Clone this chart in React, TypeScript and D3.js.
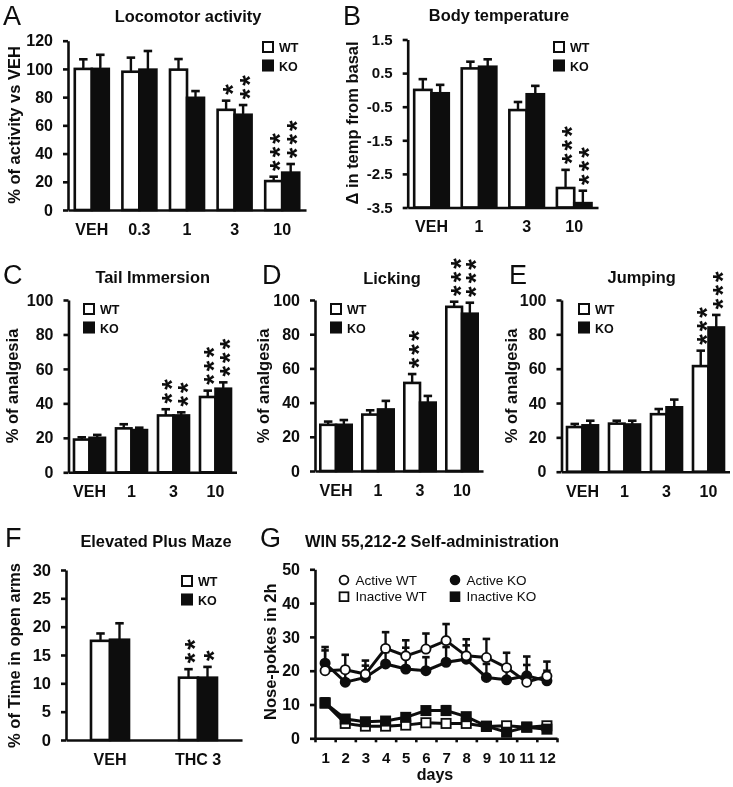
import React, { useEffect, useRef } from "react";
import * as d3 from "d3";

const SANS = "'Liberation Sans', Arial, sans-serif";
const INK = "#0c0c0c";

// A - locomotor activity
const locoDoses = ["VEH", "0.3", "1", "3", "10"];
const locoWT = [100, 98, 99.5, 71, 20.5];
const locoWTErr = [106.8, 108, 107, 77.5, 23.6];
const locoKO = [100, 99.5, 79.5, 67.5, 26.5];
const locoKOErr = [110, 112.7, 84.3, 74.4, 32.6];
const locoWTStars = [0, 0, 0, 1, 3];
const locoKOStars = [0, 0, 0, 2, 3];
const locoTicks = [0, 20, 40, 60, 80, 100, 120];

// B - body temperature
const tempDoses = ["VEH", "1", "3", "10"];
const tempWT = [0.0, 0.64, -0.6, -2.92];
const tempWTErr = [0.32, 0.84, -0.36, -2.38];
const tempKO = [-0.1, 0.69, -0.13, -3.37];
const tempKOErr = [0.15, 0.91, 0.12, -3.0];
const tempWTStars = [0, 0, 0, 3];
const tempKOStars = [0, 0, 0, 3];
const tempTicks = [-3.5, -2.5, -1.5, -0.5, 0.5, 1.5];

// C, D, E - analgesia
const analgesiaDoses = ["VEH", "1", "3", "10"];
const analgesiaTicks = [0, 20, 40, 60, 80, 100];

const tailWT = [19, 25.5, 33, 43.7];
const tailWTErr = [20.3, 27.9, 36.6, 47.4];
const tailKO = [20, 24.5, 33, 48.5];
const tailKOErr = [21.7, 25.9, 34.8, 52.2];
const tailWTStars = [0, 0, 2, 3];
const tailKOStars = [0, 0, 2, 3];

const lickWT = [27, 33, 51.5, 96];
const lickWTErr = [28.9, 35.5, 56.7, 99];
const lickKO = [27, 36, 40, 92];
const lickKOErr = [29.8, 41, 43.9, 98.4];
const lickWTStars = [0, 0, 3, 3];
const lickKOStars = [0, 0, 0, 3];

const jumpWT = [26, 28, 33.5, 61.5];
const jumpWTErr = [27.8, 29.7, 36.5, 70.5];
const jumpKO = [27, 27.5, 37.5, 84];
const jumpKOErr = [29.7, 29.7, 42, 91.3];
const jumpWTStars = [0, 0, 0, 3];
const jumpKOStars = [0, 0, 0, 3];

// F - elevated plus maze
const mazeGroups = ["VEH", "THC 3"];
const mazeWT = [17.5, 11];
const mazeWTErr = [18.8, 12.5];
const mazeKO = [17.7, 11];
const mazeKOErr = [20.6, 12.9];
const mazeWTStars = [0, 2];
const mazeKOStars = [0, 1];
const mazeTicks = [0, 5, 10, 15, 20, 25, 30];

// G - self-administration
const days = [1, 2, 3, 4, 5, 6, 7, 8, 9, 10, 11, 12];
const activeWT = [20, 20.3, 19, 26.6, 24.4, 26.4, 28.9, 24.4, 23.9, 20.9, 16.6, 18.4];
const activeWTErr = [27, 24.7, 23, 31.4, 29, 31, 33.8, 29.3, 29.4, 25.3, 24.2, 22.7];
const activeKO = [22.2, 16.6, 18, 22, 20.5, 20, 22.5, 23.4, 18, 17.3, 18.5, 17];
const activeKOErr = [26, 19.5, 21.5, 25.5, 26.8, 24, 27, 27.5, 22, 20, 21.7, 20];
const inactiveWT = [10.4, 4.4, 3.6, 3.6, 3.9, 4.6, 4.4, 4.4, 3.5, 3.7, 3.3, 3.7];
const inactiveWTErr = [11.2, 5.2, 4.4, 4.4, 4.7, 5.6, 5.6, 5.2, 4.2, 4.6, 4, 4.6];
const inactiveKO = [10.5, 5.7, 4.9, 5.1, 6.2, 8.2, 8.2, 6.4, 3.6, 1.8, 3.3, 2.7];
const inactiveKOErr = [11.8, 6.6, 5.6, 5.9, 7, 9.3, 9.5, 7.2, 4.4, 2.5, 4, 3.4];
const selfTicks = [0, 10, 20, 30, 40, 50];

const barPanels = [
  {
    letter: "A", letterX: 3, letterY: 24.5, title: "Locomotor activity", titleX: 188, titleY: 21.5,
    yLabel: "% of activity vs VEH", yLabelX: 20, yLabelY: 125,
    x0: 68, x1: 306, y0: 210, y1: 40.7, barW: 17,
    domain: [0, 120], ticks: locoTicks, tickText: locoTicks.map(String), tickSize: 16,
    groups: locoDoses, wt: locoWT, wtErr: locoWTErr, ko: locoKO, koErr: locoKOErr,
    wtStars: locoWTStars, koStars: locoKOStars, legendX: 263, legendY: 42,
  },
  {
    letter: "B", letterX: 343, letterY: 24.5, title: "Body temperature", titleX: 499, titleY: 21,
    yLabel: "Δ in temp from basal", yLabelX: 358, yLabelY: 123,
    x0: 407.7, x1: 598, y0: 207.5, y1: 39.5, barW: 17.3,
    domain: [-3.5, 1.5], ticks: tempTicks, tickText: ["-3.5", "-2.5", "-1.5", "-0.5", "0.5", "1.5"], tickSize: 15,
    groups: tempDoses, wt: tempWT, wtErr: tempWTErr, ko: tempKO, koErr: tempKOErr,
    wtStars: tempWTStars, koStars: tempKOStars, legendX: 554, legendY: 42,
  },
  {
    letter: "C", letterX: 3, letterY: 284, title: "Tail Immersion", titleX: 152.7, titleY: 283,
    yLabel: "% of analgesia", yLabelX: 17.5, yLabelY: 386,
    x0: 68.5, x1: 236.5, y0: 472.3, y1: 300, barW: 15.5,
    domain: [0, 100], ticks: analgesiaTicks, tickText: analgesiaTicks.map(String), tickSize: 16,
    groups: analgesiaDoses, wt: tailWT, wtErr: tailWTErr, ko: tailKO, koErr: tailKOErr,
    wtStars: tailWTStars, koStars: tailKOStars, legendX: 84, legendY: 304,
  },
  {
    letter: "D", letterX: 262, letterY: 284, title: "Licking", titleX: 392, titleY: 284,
    yLabel: "% of analgesia", yLabelX: 269, yLabelY: 386,
    x0: 315, x1: 483, y0: 471, y1: 300, barW: 15.7,
    domain: [0, 100], ticks: analgesiaTicks, tickText: analgesiaTicks.map(String), tickSize: 16,
    groups: analgesiaDoses, wt: lickWT, wtErr: lickWTErr, ko: lickKO, koErr: lickKOErr,
    wtStars: lickWTStars, koStars: lickKOStars, legendX: 331, legendY: 304,
  },
  {
    letter: "E", letterX: 509, letterY: 284, title: "Jumping", titleX: 641.7, titleY: 283,
    yLabel: "% of analgesia", yLabelX: 517, yLabelY: 386,
    x0: 561.5, x1: 729.5, y0: 471.7, y1: 300, barW: 15.5,
    domain: [0, 100], ticks: analgesiaTicks, tickText: analgesiaTicks.map(String), tickSize: 16,
    groups: analgesiaDoses, wt: jumpWT, wtErr: jumpWTErr, ko: jumpKO, koErr: jumpKOErr,
    wtStars: jumpWTStars, koStars: jumpKOStars, legendX: 579, legendY: 304,
  },
  {
    letter: "F", letterX: 5, letterY: 547, title: "Elevated Plus Maze", titleX: 156, titleY: 546.7,
    yLabel: "% of Time in open arms", yLabelX: 20, yLabelY: 655.5,
    x0: 66, x1: 242, y0: 740, y1: 570, barW: 19,
    domain: [0, 30], ticks: mazeTicks, tickText: mazeTicks.map(String), tickSize: 16.5,
    groups: mazeGroups, wt: mazeWT, wtErr: mazeWTErr, ko: mazeKO, koErr: mazeKOErr,
    wtStars: mazeWTStars, koStars: mazeKOStars, legendX: 182, legendY: 576,
  },
];

type Sel = d3.Selection<SVGGElement, unknown, null, undefined>;

const label = (g: Sel, s: string, x: number, y: number, size: number, weight = "bold", anchor = "start") =>
  g
    .append("text")
    .attr("x", x)
    .attr("y", y)
    .attr("font-size", size)
    .attr("font-weight", weight)
    .attr("text-anchor", anchor)
    .attr("fill", INK)
    .text(s);

const yTitle = (g: Sel, s: string, x: number, y: number) =>
  label(g, s, 0, 0, 16.5, "bold", "middle").attr("transform", `translate(${x},${y}) rotate(-90)`);

const leftAxis = (g: Sel, y: d3.ScaleLinear<number, number>, x0: number, ticks: number[], text: string[], size: number) => {
  const axis = g
    .append("g")
    .attr("transform", `translate(${x0},0)`)
    .call(
      d3
        .axisLeft(y)
        .tickValues(ticks)
        .tickSize(5)
        .tickSizeOuter(0)
        .tickPadding(10)
        .tickFormat((d) => text[ticks.indexOf(d as number)])
    );
  axis.attr("font-family", SANS).attr("font-size", size).attr("font-weight", "bold");
  axis.selectAll("path, line").attr("stroke", INK).attr("stroke-width", 2.6);
  axis.selectAll("text").attr("fill", INK);
};

const errorBar = (g: Sel, x: number, from: number, to: number, cap = 8.5) => {
  g.append("line").attr("x1", x).attr("x2", x).attr("y1", from).attr("y2", to).attr("stroke", INK).attr("stroke-width", 2.4);
  g.append("line").attr("x1", x - cap / 2).attr("x2", x + cap / 2).attr("y1", to).attr("y2", to).attr("stroke", INK).attr("stroke-width", 2.6);
};

// a stack of asterisks is one string turned on its side, lowest star first
const starStack = (g: Sel, cx: number, centre: number, count: number) => {
  if (!count) return;
  label(g, "*".repeat(count), 0, 0, 27, "bold")
    .attr("letter-spacing", 3.1)
    .attr("transform", `translate(${cx + 15.5},${centre + 5.2}) rotate(-90)`);
};

export default function App() {
  const ref = useRef<SVGSVGElement>(null);

  useEffect(() => {
    const root = d3.select(ref.current as SVGSVGElement);
    root.selectAll("*").remove();
    root
      .append("filter")
      .attr("id", "soft")
      .attr("filterUnits", "userSpaceOnUse")
      .attr("x", 0)
      .attr("y", 0)
      .attr("width", 733)
      .attr("height", 787)
      .append("feGaussianBlur")
      .attr("stdDeviation", 0.45);
    const svg = root.append("g").attr("font-family", SANS).attr("filter", "url(#soft)") as Sel;

    barPanels.forEach((p) => {
      const g = svg.append("g") as Sel;
      const x = d3.scaleBand<string>().domain(p.groups).range([p.x0, p.x1]);
      const y = d3.scaleLinear().domain(p.domain).range([p.y0, p.y1]);

      label(g, p.letter, p.letterX, p.letterY, 27, "normal");
      label(g, p.title, p.titleX, p.titleY, 16.4, "bold", "middle");
      yTitle(g, p.yLabel, p.yLabelX, p.yLabelY);

      const series = [
        { v: p.wt, err: p.wtErr, stars: p.wtStars, fill: "#fff", side: -1 },
        { v: p.ko, err: p.koErr, stars: p.koStars, fill: INK, side: 1 },
      ];
      series.forEach((s) => {
        p.groups.forEach((name, i) => {
          const c = (x(name) as number) + x.bandwidth() / 2;
          const left = s.side < 0 ? c - p.barW : c;
          const cx = left + p.barW / 2;
          errorBar(g, cx, y(s.v[i]), y(s.err[i]));
          g.append("rect")
            .attr("x", left)
            .attr("y", y(s.v[i]))
            .attr("width", p.barW)
            .attr("height", p.y0 - y(s.v[i]))
            .attr("fill", s.fill)
            .attr("stroke", INK)
            .attr("stroke-width", 2.6);
          starStack(g, cx, y(s.err[i]) - 11, s.stars[i]);
        });
      });

      leftAxis(g, y, p.x0, p.ticks, p.tickText, p.tickSize);
      const bottom = g
        .append("g")
        .attr("transform", `translate(0,${p.y0})`)
        .call(d3.axisBottom(x).tickSize(0).tickPadding(13.5));
      bottom.attr("font-family", SANS).attr("font-size", 16).attr("font-weight", "bold");
      bottom.selectAll("path").attr("stroke", INK).attr("stroke-width", 2.6);
      bottom.selectAll("text").attr("fill", INK);

      // legend
      [
        { t: "WT", fill: "#fff", dy: 0 },
        { t: "KO", fill: INK, dy: 18.5 },
      ].forEach((l) => {
        g.append("rect")
          .attr("x", p.legendX)
          .attr("y", p.legendY + l.dy)
          .attr("width", 10)
          .attr("height", 10)
          .attr("fill", l.fill)
          .attr("stroke", INK)
          .attr("stroke-width", 2);
        label(g, l.t, p.legendX + 16, p.legendY + l.dy + 10, 12.5);
      });
    });

    // G
    const g = svg.append("g") as Sel;
    const x = d3.scaleLinear().domain([0.5, 12.5]).range([315, 557]);
    const y = d3.scaleLinear().domain([0, 50]).range([738.3, 569.3]);
    label(g, "G", 260, 547, 27, "normal");
    label(g, "WIN 55,212-2 Self-administration", 432, 546.7, 16.4, "bold", "middle");
    yTitle(g, "Nose-pokes in 2h", 276, 651.7);

    const line = d3
      .line<number>()
      .x((_, i) => x(days[i]))
      .y((d) => y(d));

    const drawSeries = (v: number[], err: number[], fill: string, shape: "circle" | "square", cap: number) => {
      v.forEach((d, i) => errorBar(g, x(days[i]), y(d), y(err[i]), cap));
      g.append("path").datum(v).attr("d", line).attr("fill", "none").attr("stroke", INK).attr("stroke-width", 3);
      v.forEach((d, i) => {
        if (shape === "circle") {
          g.append("circle").attr("cx", x(days[i])).attr("cy", y(d)).attr("r", 4.6).attr("fill", fill).attr("stroke", INK).attr("stroke-width", 1.8);
        } else {
          g.append("rect").attr("x", x(days[i]) - 4.6).attr("y", y(d) - 4.6).attr("width", 9.2).attr("height", 9.2).attr("fill", fill).attr("stroke", INK).attr("stroke-width", 1.8);
        }
      });
    };
    drawSeries(inactiveWT, inactiveWTErr, "#fff", "square", 9);
    drawSeries(inactiveKO, inactiveKOErr, INK, "square", 9);
    drawSeries(activeKO, activeKOErr, INK, "circle", 7.5);
    drawSeries(activeWT, activeWTErr, "#fff", "circle", 7.5);

    leftAxis(g, y, 315, selfTicks, selfTicks.map(String), 16);
    const ticks = g
      .append("g")
      .attr("transform", `translate(0,738.3)`)
      .call(d3.axisBottom(x).tickValues(days.map((d) => d - 0.5).concat(12.5)).tickSize(4).tickSizeOuter(0).tickFormat(() => ""));
    ticks.selectAll("path, line").attr("stroke", INK).attr("stroke-width", 2.6);
    const dayAxis = g
      .append("g")
      .attr("transform", `translate(0,738.3)`)
      .call(d3.axisBottom(x).tickValues(days).tickSize(0).tickPadding(14.3).tickFormat((d) => String(d)));
    dayAxis.attr("font-family", SANS).attr("font-size", 15).attr("font-weight", "bold");
    dayAxis.select("path").remove();
    dayAxis.selectAll("text").attr("fill", INK);
    label(g, "days", 435, 780, 16, "bold", "middle");

    // G legend
    const legend = [
      { t: "Active WT", mx: 344, my: 580, fill: "#fff", shape: "circle" },
      { t: "Inactive WT", mx: 344, my: 596.7, fill: "#fff", shape: "square" },
      { t: "Active KO", mx: 455, my: 580, fill: INK, shape: "circle" },
      { t: "Inactive KO", mx: 455, my: 596.7, fill: INK, shape: "square" },
    ];
    legend.forEach((l) => {
      if (l.shape === "circle") {
        g.append("circle").attr("cx", l.mx).attr("cy", l.my).attr("r", 4.4).attr("fill", l.fill).attr("stroke", INK).attr("stroke-width", 1.8);
      } else {
        g.append("rect").attr("x", l.mx - 4.4).attr("y", l.my - 4.4).attr("width", 8.8).attr("height", 8.8).attr("fill", l.fill).attr("stroke", INK).attr("stroke-width", 1.8);
      }
      label(g, l.t, l.mx + 11.5, l.my + 4.6, 13.5, "normal");
    });
  }, []);

  return <svg ref={ref} width={733} height={787} style={{ position: "absolute", left: 0, top: 0, background: "#fff" }} />;
}
